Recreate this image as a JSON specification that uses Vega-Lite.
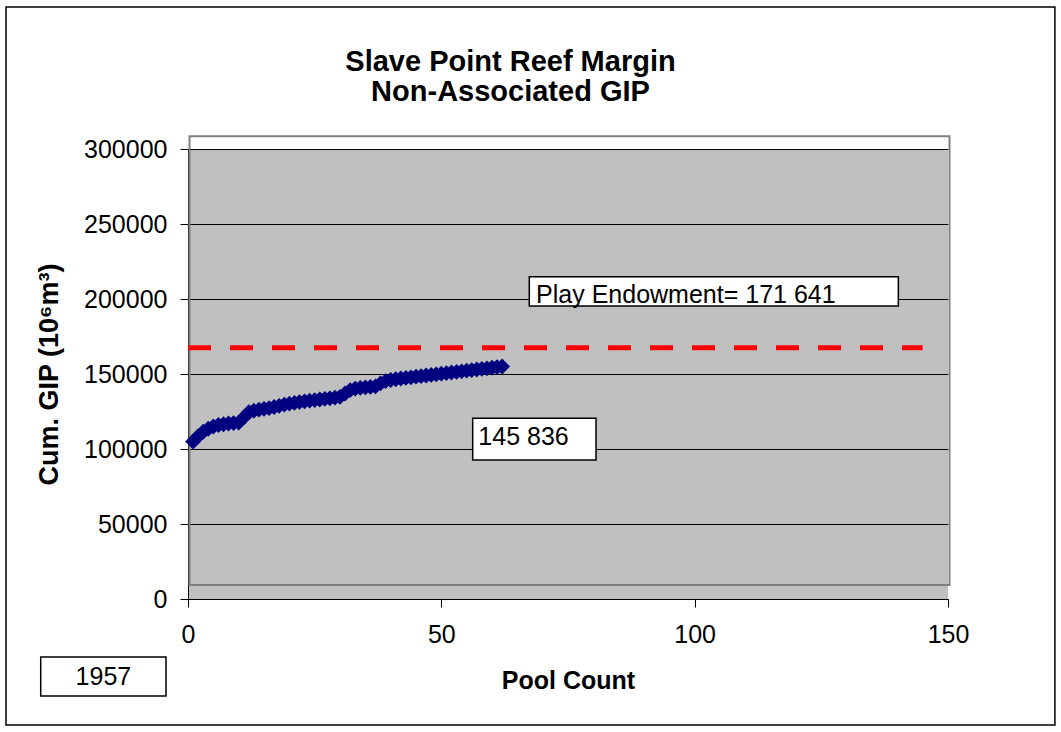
{
  "$schema": "https://vega.github.io/schema/vega-lite/v6.json",
  "width": 760,
  "height": 450,
  "autosize": {"type": "none"},
  "padding": {"left": 188, "top": 149, "right": 113, "bottom": 133},
  "background": "white",
  "config": {
    "font": "Liberation Sans",
    "view": {"fill": "#C0C0C0", "stroke": null}
  },
  "layer": [
    {
      "data": {"values": [{}]},
      "mark": {"type": "rect", "fill": null, "stroke": "#808080", "strokeWidth": 2, "clip": false},
      "encoding": {
        "x": {"datum": 0.3, "type": "quantitative", "scale": {"domain": [0, 150], "nice": false}},
        "x2": {"datum": 150.3},
        "y": {"datum": 9300, "type": "quantitative", "scale": {"domain": [0, 300000], "nice": false}},
        "y2": {"datum": 308500}
      }
    },
    {
      "data": {"values": [{}]},
      "mark": {"type": "rule", "color": "#FF0000", "strokeWidth": 5, "strokeDash": [23, 19]},
      "encoding": {
        "x": {"datum": 0, "type": "quantitative"},
        "x2": {"datum": 145},
        "y": {"datum": 167500, "type": "quantitative"}
      }
    },
    {
      "data": {
        "values": [
          {"pool": 1, "gip": 105000}, {"pool": 2, "gip": 108500}, {"pool": 3, "gip": 111500},
          {"pool": 4, "gip": 113500}, {"pool": 5, "gip": 115000}, {"pool": 6, "gip": 116000},
          {"pool": 7, "gip": 116500}, {"pool": 8, "gip": 117000}, {"pool": 9, "gip": 117300},
          {"pool": 10, "gip": 117600}, {"pool": 11, "gip": 121000}, {"pool": 12, "gip": 124500},
          {"pool": 13, "gip": 125500}, {"pool": 14, "gip": 126200}, {"pool": 15, "gip": 126800},
          {"pool": 16, "gip": 127300}, {"pool": 17, "gip": 128000}, {"pool": 18, "gip": 128800},
          {"pool": 19, "gip": 129600}, {"pool": 20, "gip": 130200}, {"pool": 21, "gip": 130800},
          {"pool": 22, "gip": 131300}, {"pool": 23, "gip": 131800}, {"pool": 24, "gip": 132200},
          {"pool": 25, "gip": 132600}, {"pool": 26, "gip": 133000}, {"pool": 27, "gip": 133400},
          {"pool": 28, "gip": 133800}, {"pool": 29, "gip": 134200}, {"pool": 30, "gip": 134800},
          {"pool": 31, "gip": 137000}, {"pool": 32, "gip": 139200}, {"pool": 33, "gip": 140300},
          {"pool": 34, "gip": 140800}, {"pool": 35, "gip": 141100}, {"pool": 36, "gip": 141400},
          {"pool": 37, "gip": 141700}, {"pool": 38, "gip": 143800}, {"pool": 39, "gip": 145300},
          {"pool": 40, "gip": 146000}, {"pool": 41, "gip": 146500}, {"pool": 42, "gip": 147000},
          {"pool": 43, "gip": 147400}, {"pool": 44, "gip": 147800}, {"pool": 45, "gip": 148200},
          {"pool": 46, "gip": 148600}, {"pool": 47, "gip": 149000}, {"pool": 48, "gip": 149400},
          {"pool": 49, "gip": 149800}, {"pool": 50, "gip": 150200}, {"pool": 51, "gip": 150600},
          {"pool": 52, "gip": 151000}, {"pool": 53, "gip": 151400}, {"pool": 54, "gip": 151800},
          {"pool": 55, "gip": 152200}, {"pool": 56, "gip": 152600}, {"pool": 57, "gip": 153000},
          {"pool": 58, "gip": 153400}, {"pool": 59, "gip": 153800}, {"pool": 60, "gip": 154200},
          {"pool": 61, "gip": 154600}, {"pool": 62, "gip": 155000}
        ]
      },
      "mark": {"type": "point", "shape": "diamond", "filled": true, "size": 250, "color": "#000080", "opacity": 1},
      "encoding": {
        "x": {
          "field": "pool", "type": "quantitative",
          "scale": {"domain": [0, 150], "nice": false},
          "axis": {
            "title": "Pool Count",
            "values": [0, 50, 100, 150],
            "grid": false,
            "labelFlush": false,
            "domainColor": "black",
            "domainWidth": 1,
            "tickColor": "black",
            "tickSize": 8,
            "labelFontSize": 25,
            "labelColor": "black",
            "labelPadding": 15,
            "labelFont": "Liberation Sans",
            "titleFont": "Liberation Sans",
            "titleFontSize": 25,
            "titleFontWeight": "bold",
            "titleColor": "black",
            "titlePadding": 21
          }
        },
        "y": {
          "field": "gip", "type": "quantitative",
          "scale": {"domain": [0, 300000], "nice": false},
          "axis": {
            "title": "Cum. GIP (10⁶m³)",
            "values": [0, 50000, 100000, 150000, 200000, 250000, 300000],
            "format": "d",
            "grid": true,
            "labelFlush": false,
            "gridColor": "black",
            "gridWidth": 1,
            "gridOpacity": 1,
            "domainColor": "black",
            "domainWidth": 1,
            "tickColor": "black",
            "tickSize": 8,
            "labelFontSize": 25,
            "labelColor": "black",
            "labelPadding": 13,
            "labelFont": "Liberation Sans",
            "titleFont": "Liberation Sans",
            "titleFontSize": 27,
            "titleFontWeight": "bold",
            "titleColor": "black",
            "titlePadding": 20
          }
        }
      }
    },
    {
      "data": {"values": [{}]},
      "mark": {"type": "text", "text": "Slave Point Reef Margin", "align": "center", "baseline": "alphabetic", "fontSize": 29, "fontWeight": "bold", "fill": "black"},
      "encoding": {
        "x": {"datum": 63.65, "type": "quantitative"},
        "y": {"datum": 351667, "type": "quantitative"}
      }
    },
    {
      "data": {"values": [{}]},
      "mark": {"type": "text", "text": "Non-Associated GIP", "align": "center", "baseline": "alphabetic", "fontSize": 29, "fontWeight": "bold", "fill": "black"},
      "encoding": {
        "x": {"datum": 63.65, "type": "quantitative"},
        "y": {"datum": 332333, "type": "quantitative"}
      }
    },
    {
      "data": {"values": [{}]},
      "mark": {"type": "rect", "fill": "white", "stroke": "black", "strokeWidth": 1.5, "clip": false},
      "encoding": {
        "x": {"datum": 67.36, "type": "quantitative"},
        "x2": {"datum": 140.2},
        "y": {"datum": 195333, "type": "quantitative"},
        "y2": {"datum": 214867}
      }
    },
    {
      "data": {"values": [{}]},
      "mark": {"type": "text", "text": "Play Endowment= 171 641", "align": "left", "baseline": "alphabetic", "fontSize": 25, "fill": "black"},
      "encoding": {
        "x": {"datum": 68.7, "type": "quantitative"},
        "y": {"datum": 197300, "type": "quantitative"}
      }
    },
    {
      "data": {"values": [{}]},
      "mark": {"type": "rect", "fill": "white", "stroke": "black", "strokeWidth": 1.5, "clip": false},
      "encoding": {
        "x": {"datum": 56.19, "type": "quantitative"},
        "x2": {"datum": 80.53},
        "y": {"datum": 92667, "type": "quantitative"},
        "y2": {"datum": 120467}
      }
    },
    {
      "data": {"values": [{}]},
      "mark": {"type": "text", "text": "145 836", "align": "left", "baseline": "alphabetic", "fontSize": 25, "fill": "black"},
      "encoding": {
        "x": {"datum": 57.3, "type": "quantitative"},
        "y": {"datum": 102667, "type": "quantitative"}
      }
    },
    {
      "data": {"values": [{}]},
      "mark": {"type": "rect", "fill": "white", "stroke": "black", "strokeWidth": 1.5, "clip": false},
      "encoding": {
        "x": {"datum": -29.07, "type": "quantitative"},
        "x2": {"datum": -4.34},
        "y": {"datum": -64667, "type": "quantitative"},
        "y2": {"datum": -38667}
      }
    },
    {
      "data": {"values": [{}]},
      "mark": {"type": "text", "text": "1957", "align": "center", "baseline": "alphabetic", "fontSize": 25, "fill": "black"},
      "encoding": {
        "x": {"datum": -16.7, "type": "quantitative"},
        "y": {"datum": -57333, "type": "quantitative"}
      }
    },
    {
      "data": {"values": [{}]},
      "mark": {"type": "rect", "fill": null, "stroke": "black", "strokeWidth": 1.5, "clip": false},
      "encoding": {
        "x": {"datum": -35.92, "type": "quantitative"},
        "x2": {"datum": 171.1},
        "y": {"datum": -84000, "type": "quantitative"},
        "y2": {"datum": 394667}
      }
    }
  ]
}
